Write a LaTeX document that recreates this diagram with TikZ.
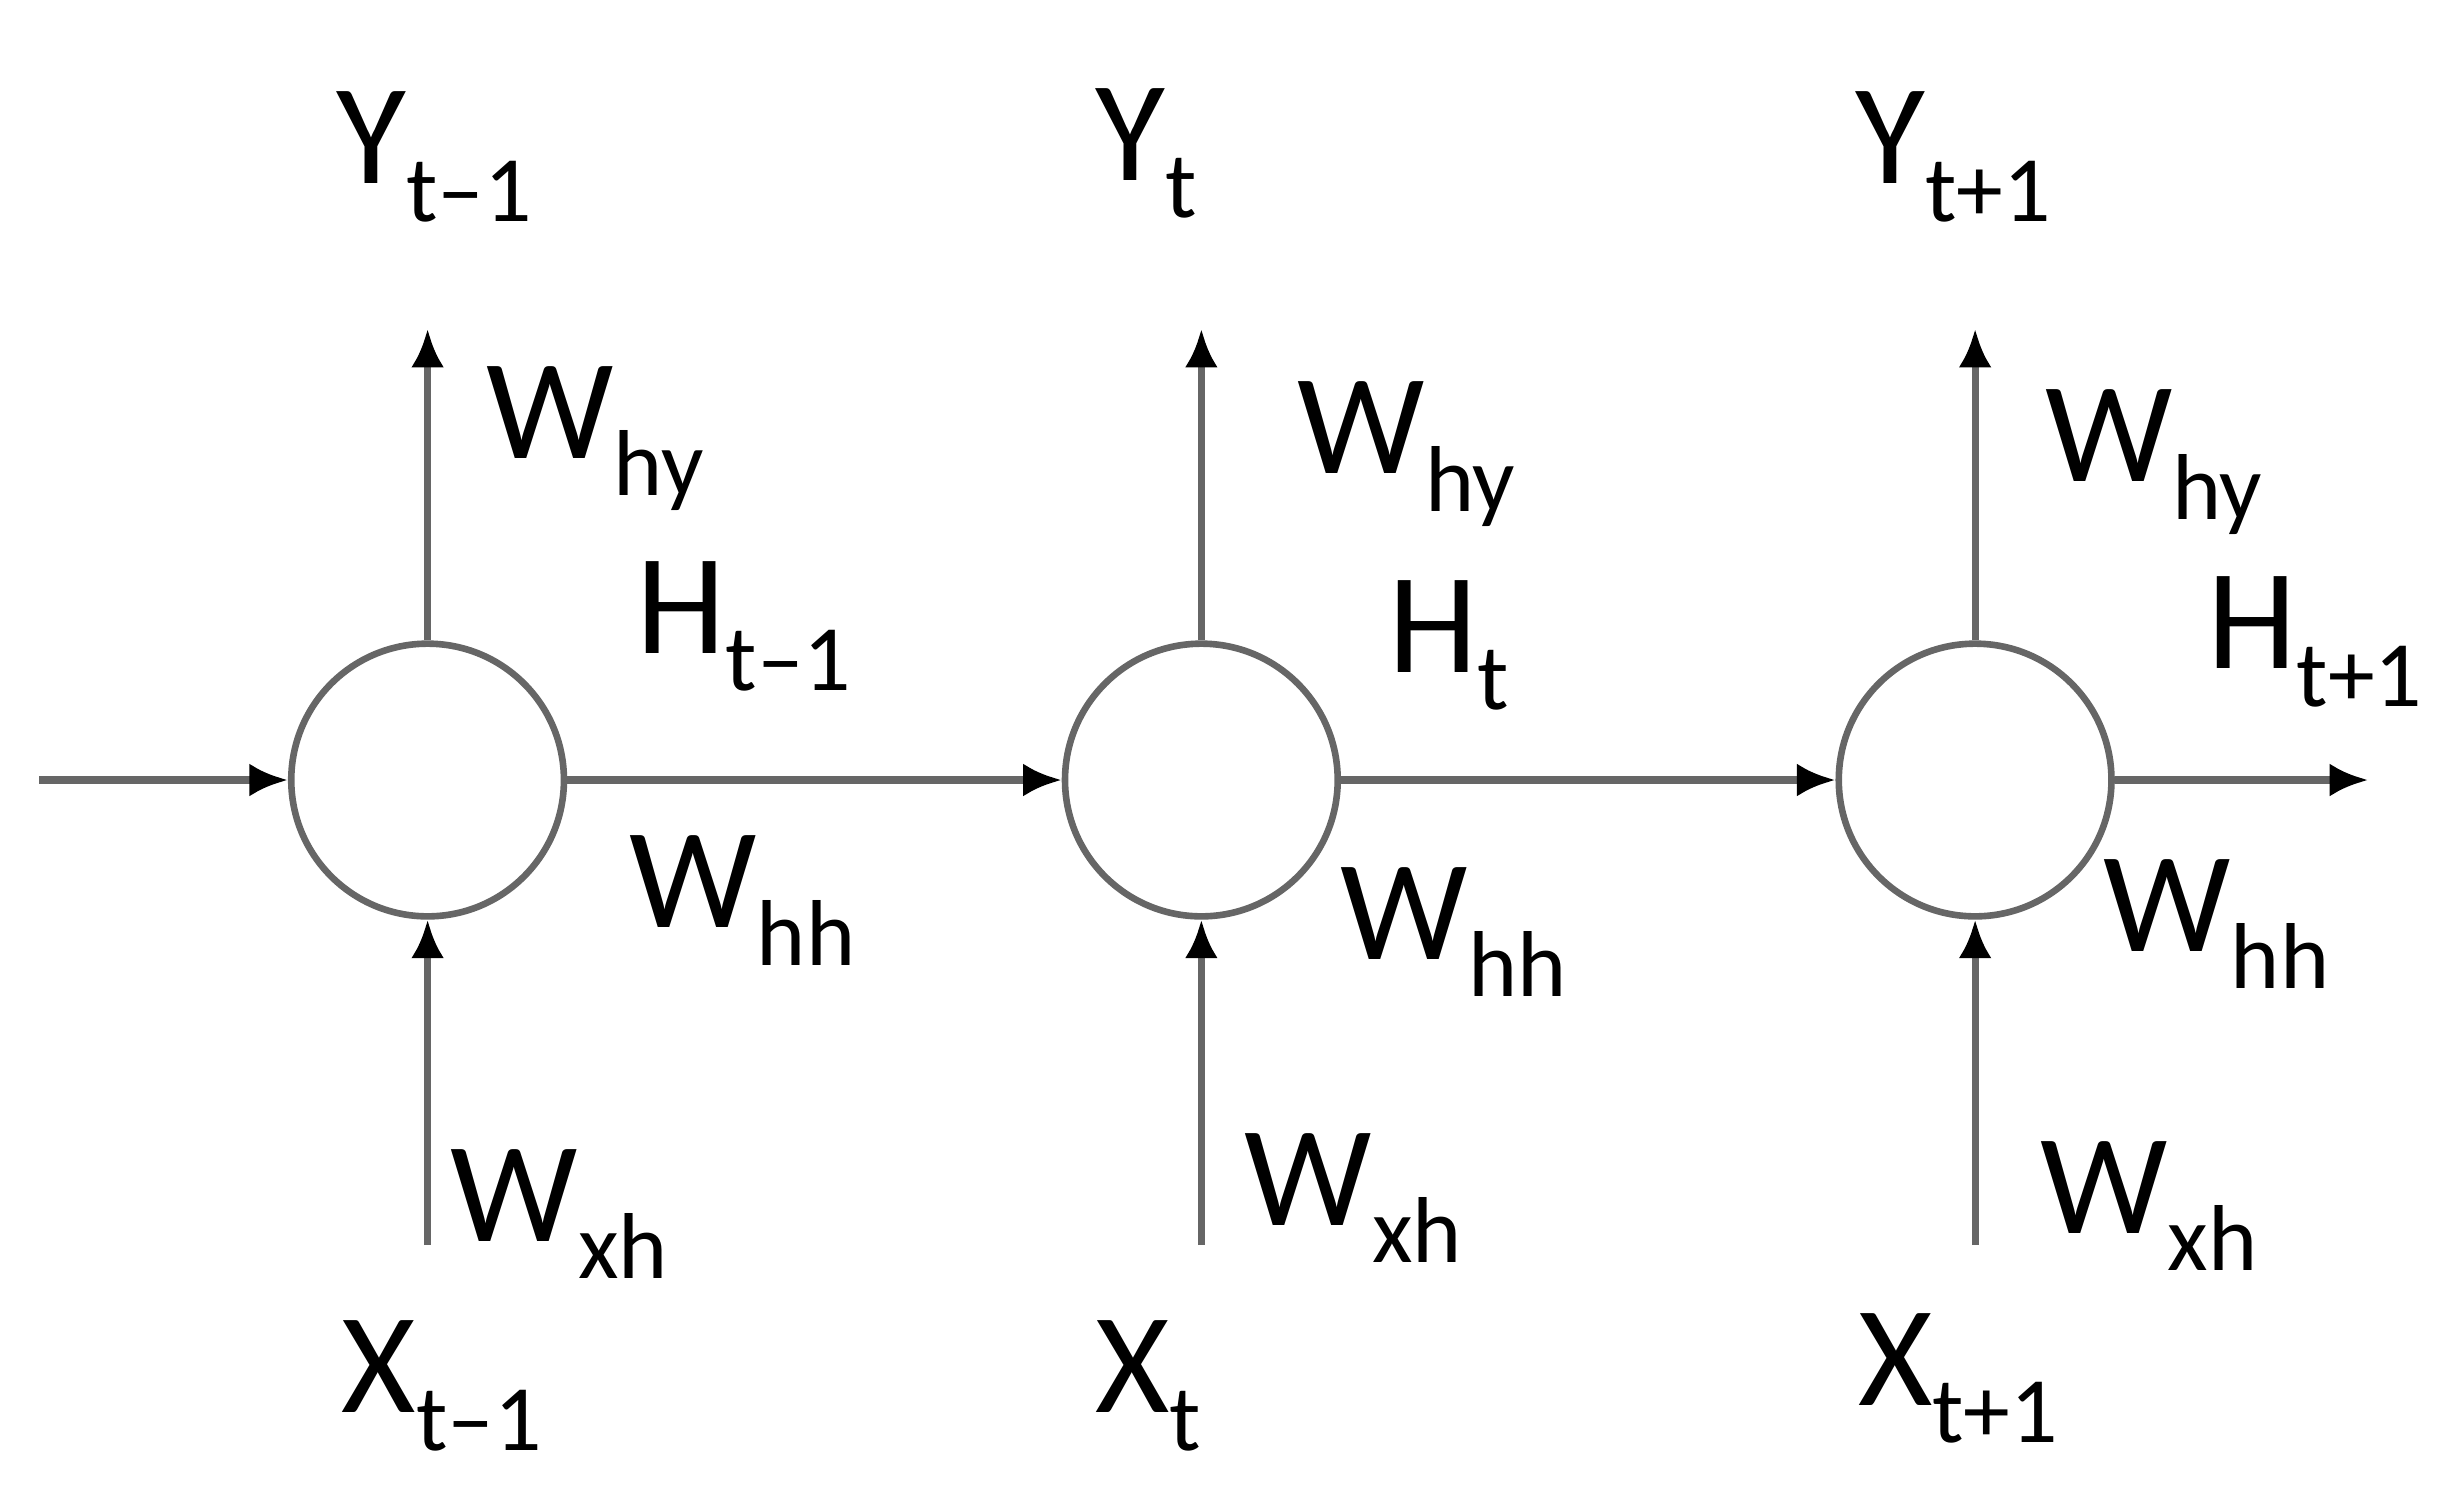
\documentclass[tikz,border=0pt]{standalone}
\usepackage{fontspec}
\setmainfont{Carlito}
\usetikzlibrary{arrows.meta}
\newcommand{\mysub}[1]{\raisebox{-0.55ex}{\fontsize{17}{17}\selectfont #1}}
\tikzset{
 cell/.style={circle,draw=gray!80!black,line width=1.2pt,minimum size=1.74cm,inner sep=0pt},
 conn/.style={draw=gray!80!black,line width=1.3pt,-{Latex[black,length=7pt,width=6pt]}},
 lbl/.style={font=\fontsize{26}{26}\selectfont,inner sep=0pt}
}
\begin{document}
\begin{tikzpicture}[x=0.01cm,y=-0.01cm]
\useasboundingbox (0,0) rectangle (1568,952);
\node[cell] (c1) at (273,498) {};
\node[cell] (c2) at (767,498) {};
\node[cell] (c3) at (1261,498) {};
\coordinate (in) at (25,498);
\coordinate (out) at (1512,498);
\foreach \i/\x in {1/273,2/767,3/1261}{
 \coordinate (top\i) at (\x,210);
 \coordinate (bot\i) at (\x,795);
 \draw[conn] (c\i.north) -- (top\i);
 \draw[conn] (bot\i) -- (c\i.south);
}
\draw[conn] (in) -- (c1.west);
\draw[conn] (c1.east) -- (c2.west);
\draw[conn] (c2.east) -- (c3.west);
\draw[conn] (c3.east) -- (out);
\node[lbl] (y1) at (277,100) {Y\mysub{t–1}};
\node[lbl] (y2) at (732,98) {Y\mysub{t}};
\node[lbl] (y3) at (1247,100) {Y\mysub{t+1}};
\node[lbl] (wy1) at (380,280) {W\mysub{hy}};
\node[lbl] (wy2) at (898,290) {W\mysub{hy}};
\node[lbl] (wy3) at (1375,295) {W\mysub{hy}};
\node[lbl] (h1) at (475,400) {H\mysub{t–1}};
\node[lbl] (h2) at (925,412) {H\mysub{t}};
\node[lbl] (h3) at (1478,410) {H\mysub{t+1}};
\node[lbl] (wh1) at (474,575) {W\mysub{hh}};
\node[lbl] (wh2) at (928,595) {W\mysub{hh}};
\node[lbl] (wh3) at (1415,590) {W\mysub{hh}};
\node[lbl] (wx1) at (357,775) {W\mysub{xh}};
\node[lbl] (wx2) at (864,765) {W\mysub{xh}};
\node[lbl] (wx3) at (1372,770) {W\mysub{xh}};
\node[lbl] (x1) at (282,885) {X\mysub{t–1}};
\node[lbl] (x2) at (733,885) {X\mysub{t}};
\node[lbl] (x3) at (1250,880) {X\mysub{t+1}};
\end{tikzpicture}
\end{document}
